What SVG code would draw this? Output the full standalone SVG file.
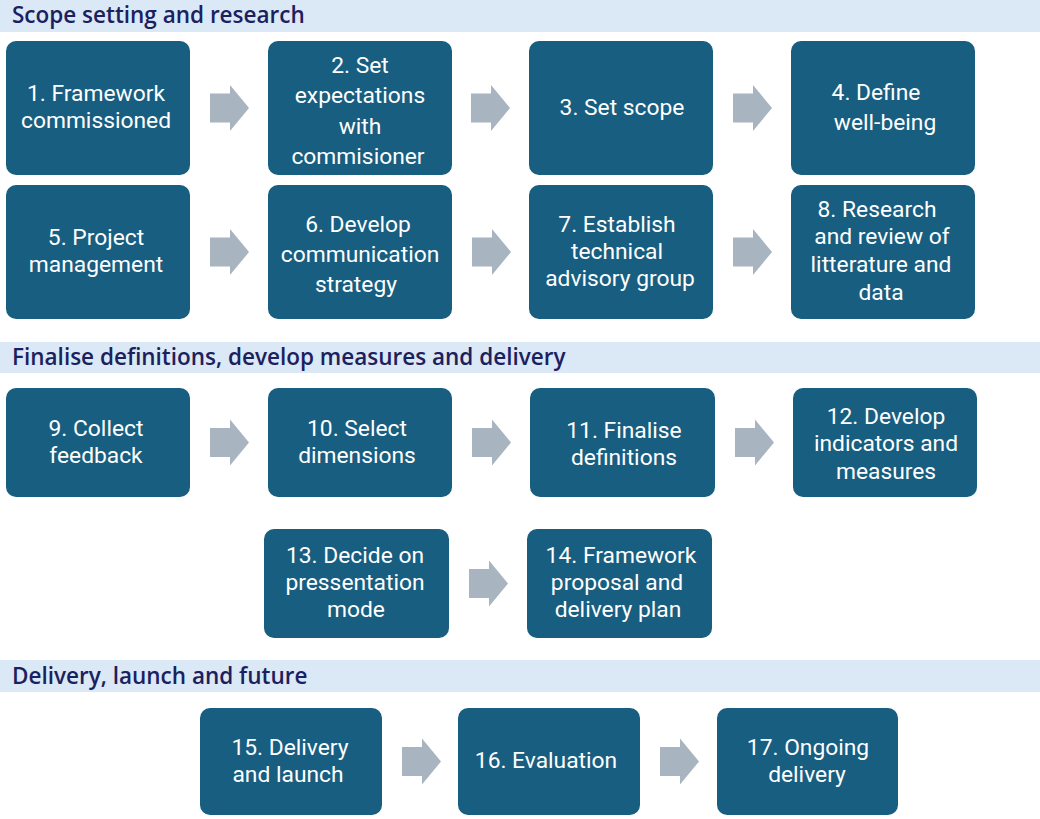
<svg xmlns="http://www.w3.org/2000/svg" width="1040" height="819" viewBox="0 0 1040 819">
<defs>
<style>
.hdr{fill:#dbe8f5}
.ht{font-family:"Open Sans","Noto Sans",sans-serif;font-size:22.5px;font-weight:600;fill:#1b215e}
.box{fill:#175e80}
.bt{font-family:Roboto,"Open Sans",sans-serif;font-size:22.8px;fill:#ffffff;text-anchor:middle}
.arr{fill:#a9b4c1}
</style>
<path id="ar" d="M0,-14.5 H20 V-23 L39,0 L20,23 V14.5 H0 Z"/>
</defs>
<rect width="1040" height="819" fill="#ffffff"/>
<g id="header1"><rect class="hdr" x="0" y="0" width="1040" height="32"/><text class="ht" x="12" y="23">Scope setting and research</text></g>
<g id="header2"><rect class="hdr" x="0" y="342" width="1040" height="31"/><text class="ht" x="12" y="365">Finalise definitions, develop measures and delivery</text></g>
<g id="header3"><rect class="hdr" x="0" y="660" width="1040" height="32"/><text class="ht" x="12" y="684">Delivery, launch and future</text></g>

<g id="connectors" class="arr">
<use href="#ar" x="210" y="108"/>
<use href="#ar" x="471" y="108"/>
<use href="#ar" x="733" y="108"/>
<use href="#ar" x="210" y="252"/>
<use href="#ar" x="472" y="252"/>
<use href="#ar" x="733" y="252"/>
<use href="#ar" x="210" y="442.5"/>
<use href="#ar" x="472" y="442.5"/>
<use href="#ar" x="735" y="442.5"/>
<use href="#ar" x="469" y="583.5"/>
<use href="#ar" x="402" y="761.5"/>
<use href="#ar" x="660" y="761.5"/>
</g>

<g id="n1"><rect class="box" x="6" y="41" width="184" height="134" rx="10"/><text class="bt"><tspan x="96" y="101">1. Framework</tspan><tspan x="96" y="128">commissioned</tspan></text></g>
<g id="n2"><rect class="box" x="268" y="41" width="184" height="134" rx="10"/><text class="bt"><tspan x="360" y="73">2. Set</tspan><tspan x="360" y="103">expectations</tspan><tspan x="360" y="134">with</tspan><tspan x="358" y="164">commisioner</tspan></text></g>
<g id="n3"><rect class="box" x="529" y="41" width="184" height="134" rx="10"/><text class="bt"><tspan x="622" y="115">3. Set scope</tspan></text></g>
<g id="n4"><rect class="box" x="791" y="41" width="184" height="134" rx="10"/><text class="bt"><tspan x="876" y="100">4. Define</tspan><tspan x="885" y="130">well-being</tspan></text></g>

<g id="n5"><rect class="box" x="6" y="185" width="184" height="134" rx="10"/><text class="bt"><tspan x="96" y="245">5. Project</tspan><tspan x="96" y="272">management</tspan></text></g>
<g id="n6"><rect class="box" x="268" y="185" width="184" height="134" rx="10"/><text class="bt"><tspan x="358" y="232">6. Develop</tspan><tspan x="360" y="262">communication</tspan><tspan x="356" y="292">strategy</tspan></text></g>
<g id="n7"><rect class="box" x="529" y="185" width="184" height="134" rx="10"/><text class="bt"><tspan x="617" y="232">7. Establish</tspan><tspan x="617" y="259">technical</tspan><tspan x="620" y="286">advisory group</tspan></text></g>
<g id="n8"><rect class="box" x="791" y="185" width="184" height="134" rx="10"/><text class="bt"><tspan x="877" y="217">8. Research</tspan><tspan x="882" y="244">and review of</tspan><tspan x="881" y="272">litterature and</tspan><tspan x="881" y="300">data</tspan></text></g>

<g id="n9"><rect class="box" x="6" y="388" width="184" height="109" rx="10"/><text class="bt"><tspan x="96" y="436">9. Collect</tspan><tspan x="96" y="463">feedback</tspan></text></g>
<g id="n10"><rect class="box" x="268" y="388" width="184" height="109" rx="10"/><text class="bt"><tspan x="357" y="436">10. Select</tspan><tspan x="357" y="463">dimensions</tspan></text></g>
<g id="n11"><rect class="box" x="530" y="388" width="185" height="109" rx="10"/><text class="bt"><tspan x="624" y="438">11. Finalise</tspan><tspan x="624" y="465">definitions</tspan></text></g>
<g id="n12"><rect class="box" x="793" y="388" width="184" height="109" rx="10"/><text class="bt"><tspan x="886" y="424">12. Develop</tspan><tspan x="886" y="451">indicators and</tspan><tspan x="886" y="479">measures</tspan></text></g>

<g id="n13"><rect class="box" x="264" y="529" width="185" height="109" rx="10"/><text class="bt"><tspan x="355" y="563">13. Decide on</tspan><tspan x="355" y="590">pressentation</tspan><tspan x="356" y="617">mode</tspan></text></g>
<g id="n14"><rect class="box" x="527" y="529" width="185" height="109" rx="10"/><text class="bt"><tspan x="621" y="563">14. Framework</tspan><tspan x="617" y="590">proposal and</tspan><tspan x="618" y="617">delivery plan</tspan></text></g>

<g id="n15"><rect class="box" x="200" y="708" width="182" height="107" rx="10"/><text class="bt"><tspan x="290" y="755">15. Delivery</tspan><tspan x="288" y="782">and launch</tspan></text></g>
<g id="n16"><rect class="box" x="458" y="708" width="182" height="107" rx="10"/><text class="bt"><tspan x="546" y="768">16. Evaluation</tspan></text></g>
<g id="n17"><rect class="box" x="717" y="708" width="181" height="107" rx="10"/><text class="bt"><tspan x="808" y="755">17. Ongoing</tspan><tspan x="807" y="782">delivery</tspan></text></g>
</svg>
